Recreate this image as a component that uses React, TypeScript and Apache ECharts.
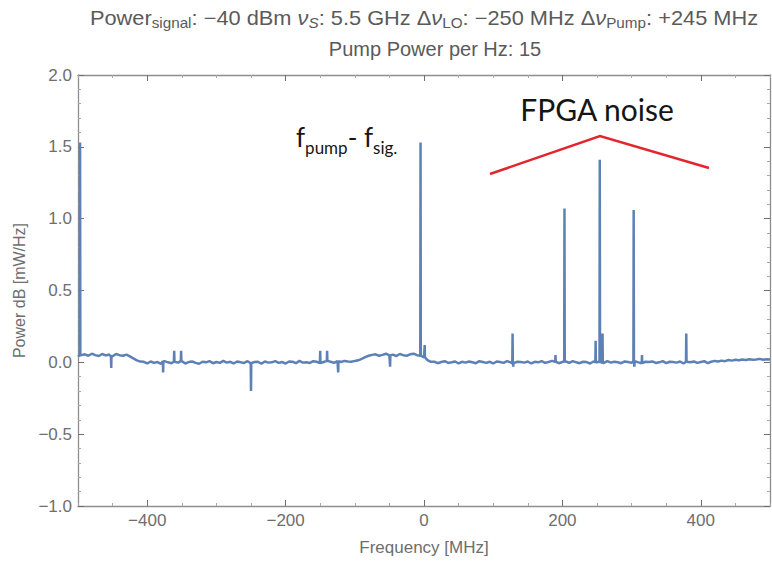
import React, { useEffect, useRef } from 'react';
import * as echarts from 'echarts';

// Spectrum baseline, sampled every 5 MHz from -500 MHz to +500 MHz (mW/Hz, dB scale)
const FREQ_START = -500;
const FREQ_STEP = 5;
const baseline: number[] = [
  // -500 .. -430 : raised shoulder
  0.040, 0.050, 0.056, 0.046, 0.060, 0.050, 0.044, 0.058, 0.048, 0.054, 0.042, 0.058, 0.050, 0.046, 0.054,
  // -425 .. -410 : roll-off
  0.042, 0.028, 0.014, 0.005,
  // -405 .. -100 : floor
  0.004, -0.008, 0.006, -0.004, 0.002, -0.010, 0.008, 0.000, -0.006, 0.004,
  -0.002, 0.010, -0.008, 0.002, 0.006, -0.004, -0.010, 0.004, 0.000, 0.008,
  -0.006, 0.002, -0.004, 0.010, -0.002, 0.004, -0.008, 0.006, 0.000, -0.004,
  0.008, -0.006, 0.002, 0.004, -0.010, 0.006, -0.002, 0.000, 0.008, -0.004,
  0.002, -0.008, 0.006, 0.004, -0.006, 0.010, -0.002, 0.000, -0.004, 0.008,
  0.004, -0.006, 0.002, 0.010, 0.004, -0.004, 0.008, 0.002, 0.010, 0.006,
  0.004, 0.010,
  // -95 .. -75 : rise
  0.014, 0.024, 0.036, 0.046, 0.052,
  // -70 .. -10 : raised band
  0.056, 0.046, 0.052, 0.060, 0.048, 0.054, 0.044, 0.058, 0.050, 0.046, 0.056, 0.060, 0.050,
  // -5 .. 10 : fall
  0.046, 0.034, 0.016, 0.004,
  // 15 .. 500 : floor
  0.004, -0.006, 0.002, 0.008, -0.004, 0.000, 0.006, -0.008, 0.004, -0.002,
  0.006, 0.000, -0.006, 0.008, 0.002, -0.004, 0.004, -0.008, 0.006, 0.002,
  -0.004, 0.008, 0.000, -0.006, 0.004, 0.002, -0.002, 0.006, -0.008, 0.004,
  0.000, 0.008, -0.004, 0.002, 0.010, 0.004, -0.006, 0.002, 0.006, -0.004,
  0.008, 0.000, -0.006, 0.004, 0.002, -0.008, 0.006, 0.000, 0.004, -0.004,
  0.008, -0.002, 0.004, 0.000, -0.006, 0.006, 0.002, -0.004, 0.008, 0.000,
  -0.006, 0.004, 0.002, 0.006, -0.004, 0.000, 0.008, -0.006, 0.004, 0.002,
  -0.002, 0.006, -0.008, 0.004, 0.000, 0.006, -0.004, 0.002, 0.008, -0.006,
  0.004, 0.010, 0.006, 0.012, 0.008, 0.016, 0.012, 0.018, 0.014, 0.020,
  0.016, 0.022, 0.018, 0.020, 0.024, 0.018, 0.022, 0.020,
];

// Narrow tones: [frequency MHz, peak value]
const spikes: [number, number][] = [
  [-497, 1.53], [-452, -0.04], [-377, -0.07], [-361, 0.08], [-351, 0.08], [-250, -0.2],
  [-150, 0.08], [-140, 0.08], [-124, -0.07], [-49, -0.03], [-5, 1.53], [1, 0.12],
  [128, 0.2], [129, -0.03], [190, 0.05], [203, 1.07], [248, 0.15], [254, 1.41], [258, 0.2],
  [303, 1.06], [304, -0.03], [315, 0.05], [379, 0.2],
];

const xMajorTicks = [-400, -200, 0, 200, 400];
const xRange = [-500, 500];
const yRange = [-1, 2];

const LINE_COLOR = '#5E81B5';
const FRAME_COLOR = '#8e8e8e';
const LABEL_COLOR = '#6e6e6e';
const TITLE_COLOR = '#5a5a5a';
const SANS = '"Liberation Sans", Arial, sans-serif';
const NOTE_FONT = 'Lato, "Open Sans", sans-serif';

function buildSeries(): number[][] {
  const pts: number[][] = baseline.map((v, i) => [FREQ_START + i * FREQ_STEP, v]);
  spikes.forEach(([f, peak]) => {
    const foot = baseline[Math.round((f - FREQ_START) / FREQ_STEP)];
    pts.push([f - 0.4, foot], [f, peak], [f + 0.4, foot]);
  });
  return pts.sort((a, b) => a[0] - b[0]);
}

const minus = (s: string) => s.replace('-', '\u2212');

function frameX(position: 'top' | 'bottom', withLabels: boolean) {
  return {
    type: 'value',
    position,
    min: xRange[0],
    max: xRange[1],
    interval: 50,
    axisLine: { show: true, onZero: false, lineStyle: { color: FRAME_COLOR, width: 1.3 } },
    axisTick: { show: true, inside: true, length: 3, lineStyle: { color: '#a8a8a8', width: 1 } },
    axisLabel: withLabels
      ? {
          show: true,
          margin: 6,
          color: LABEL_COLOR,
          fontSize: 17,
          fontFamily: SANS,
          formatter: (v: number) => (v % 200 === 0 ? minus(String(v)) : ''),
        }
      : { show: false },
    splitLine: { show: false },
  };
}

function majorX(position: 'top' | 'bottom') {
  return {
    type: 'value',
    position,
    min: xRange[0],
    max: xRange[1],
    axisLine: { show: false, onZero: false },
    axisTick: { show: true, inside: true, length: 6, customValues: xMajorTicks, lineStyle: { color: '#707070', width: 1 } },
    axisLabel: { show: false },
    splitLine: { show: false },
  };
}

function frameY(position: 'left' | 'right', withLabels: boolean) {
  return {
    type: 'value',
    position,
    min: yRange[0],
    max: yRange[1],
    interval: 0.5,
    axisLine: { show: true, onZero: false, lineStyle: { color: FRAME_COLOR, width: 1.3 } },
    axisTick: { show: true, inside: true, length: 6, lineStyle: { color: '#707070', width: 1 } },
    minorTick: { show: true, splitNumber: 5, length: 3, lineStyle: { color: '#a8a8a8', width: 1 } },
    axisLabel: withLabels
      ? {
          show: true,
          margin: 6,
          color: LABEL_COLOR,
          fontSize: 17,
          fontFamily: SANS,
          formatter: (v: number) => minus(v.toFixed(1)),
        }
      : { show: false },
    splitLine: { show: false },
  };
}

export default function App() {
  const ref = useRef<HTMLDivElement>(null);

  useEffect(() => {
    document.body.style.margin = '0';
    const chart = echarts.init(ref.current!, undefined, { renderer: 'svg' });

    const titleRich = {
      n: { fontSize: 20, fontFamily: SANS, fill: TITLE_COLOR },
      i: { fontSize: 20, fontFamily: SANS, fontStyle: 'italic', fill: TITLE_COLOR },
      s: { fontSize: 14, fontFamily: SANS, fill: TITLE_COLOR, padding: [10, 0, 0, 0] },
      si: { fontSize: 14, fontFamily: SANS, fontStyle: 'italic', fill: TITLE_COLOR, padding: [10, 0, 0, 0] },
    };

    const xAxis = [
      {
        ...frameX('bottom', true),
        name: 'Frequency [MHz]',
        nameLocation: 'middle',
        nameGap: 33,
        nameTextStyle: { color: LABEL_COLOR, fontSize: 17, fontFamily: SANS },
      },
      frameX('top', false),
      majorX('bottom'),
      majorX('top'),
    ];
    const yAxis = [
      {
        ...frameY('left', true),
        name: 'Power dB [mW/Hz]',
        nameLocation: 'middle',
        nameRotate: 90,
        nameGap: 44,
        nameTextStyle: { color: LABEL_COLOR, fontSize: 16, fontFamily: SANS },
      },
      frameY('right', false),
    ];

    chart.setOption({
      animation: false,
      backgroundColor: '#ffffff',
      grid: { left: 78, right: 2, top: 75, bottom: 55, containLabel: false, outerBoundsMode: 'none' },
      xAxis,
      yAxis,
      series: [
        {
          type: 'line',
          xAxisIndex: 0,
          yAxisIndex: 0,
          data: buildSeries(),
          showSymbol: false,
          symbol: 'none',
          lineStyle: { color: LINE_COLOR, width: 2.5 },
          clip: true,
        },
      ],
      graphic: [
        {
          type: 'text',
          x: 424,
          y: 18,
          scaleX: 1.09,
          style: {
            text:
              '{n|Power}{s|signal}{n|: \u221240 dBm }{i|\u03bd}{si|S}{n|: 5.5 GHz \u0394}{i|\u03bd}{s|LO}{n|: \u2212250 MHz \u0394}{i|\u03bd}{s|Pump}{n|: +245 MHz}',
            rich: titleRich,
            align: 'center',
            verticalAlign: 'middle',
            textAlign: 'center',
            textVerticalAlign: 'middle',
          },
        },
        {
          type: 'text',
          x: 435,
          y: 49,
          style: {
            text: 'Pump Power per Hz: 15',
            font: `20px ${SANS}`,
            fill: TITLE_COLOR,
            align: 'center',
            verticalAlign: 'middle',
            textAlign: 'center',
            textVerticalAlign: 'middle',
          },
        },
        {
          type: 'text',
          x: 597,
          y: 109,
          style: {
            text: 'FPGA noise',
            font: `30px ${NOTE_FONT}`,
            fill: '#151515',
            align: 'center',
            verticalAlign: 'middle',
            textAlign: 'center',
            textVerticalAlign: 'middle',
          },
        },
        {
          type: 'text',
          x: 296,
          y: 137,
          style: {
            text: '{m|f}{s|pump}{m|- f}{s|sig.}',
            rich: {
              m: { fontSize: 26, fontFamily: NOTE_FONT, fill: '#151515' },
              s: { fontSize: 17, fontFamily: NOTE_FONT, fill: '#151515', padding: [20, 0, 0, 0] },
            },
            align: 'left',
            verticalAlign: 'middle',
            textAlign: 'left',
            textVerticalAlign: 'middle',
          },
        },
        {
          type: 'polyline',
          shape: { points: [[490, 174], [600, 136], [709, 168]] },
          style: { stroke: '#e3262e', lineWidth: 2.5, fill: 'none' },
        },
      ],
    });

    return () => chart.dispose();
  }, []);

  return <div ref={ref} style={{ width: 772, height: 561 }} />;
}
